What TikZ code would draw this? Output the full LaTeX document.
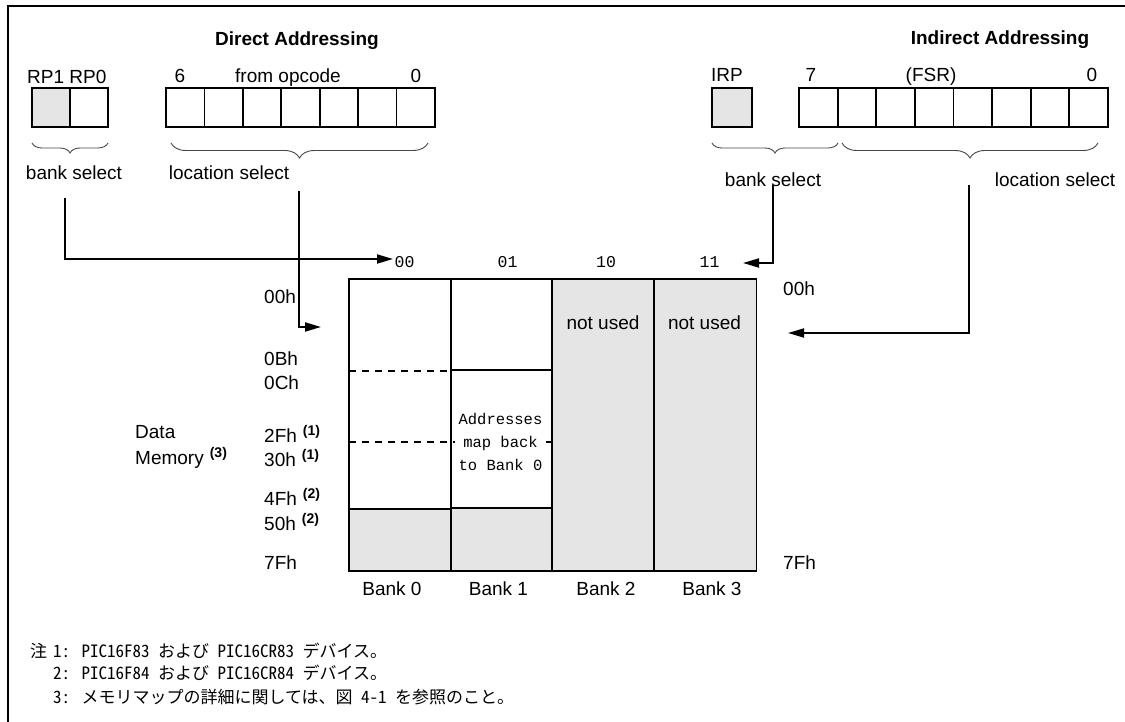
\documentclass[tikz,border=0pt]{standalone}
\usepackage{fontspec}
\setmainfont{Liberation Sans}
\newfontfamily\monof{Liberation Mono}
\newfontfamily\jpfont[RawFeature=+hwid]{Noto Sans CJK JP}
\usetikzlibrary{arrows.meta,decorations.pathreplacing}
\definecolor{memgray}{RGB}{229,229,229}
\definecolor{bracecol}{RGB}{70,70,70}
\begin{document}
\begin{tikzpicture}[x=1pt,y=-1pt,
  lbl/.style={font=\fontsize{19}{22}\selectfont, inner sep=0pt, text height=13.6pt, text depth=0pt},
  ttl/.style={lbl, font=\fontsize{19}{22}\selectfont\bfseries},
  mono/.style={font=\monof\fontsize{16.5}{18}\selectfont, inner sep=0pt, text height=11pt, text depth=0pt},
  note/.style={font=\jpfont\fontsize{17}{20}\selectfont, inner sep=0pt, anchor=west},
  cell/.style={draw, line width=1.8pt, minimum width=38.4pt, minimum height=39pt, inner sep=0pt, outer sep=0pt},
  fcell/.style={cell, minimum width=38.6pt},
  bankcol/.style={draw, line width=1.8pt, minimum height=292pt, inner sep=0pt, outer sep=0pt},
  arr/.style={line width=1.8pt, -{Triangle[length=16pt,width=9pt]}},
  bracesmall/.style={draw=bracecol, line width=0.9pt, decorate, decoration={brace, mirror, amplitude=10pt}},
  bracebig/.style={draw=bracecol, line width=0.9pt, decorate, decoration={brace, mirror, amplitude=15pt}},
  dline/.style={line width=1.5pt, dash pattern=on 7pt off 6pt}
]
\useasboundingbox (0,0) rectangle (1125,722);
% frame
\draw[line width=2pt] (8,722) -- (8,6.5) -- (1125,6.5);

% titles
\node[ttl] (tdir) at (297,39) {Direct Addressing};
\node[ttl] (tind) at (1000,38) {Indirect Addressing};

% direct registers
\node[lbl, anchor=west] (lrp) at (27,76.5) {RP1 RP0};
\node[cell, fill=memgray, minimum width=38pt] (rp1) at (51,107.5) {};
\node[cell, minimum width=38pt] (rp0) at (89,107.5) {};
\foreach \i in {0,...,6} \node[cell] (op\i) at ({185.2+38.43*\i},107.5) {};
\node[lbl] (l6) at (180,76) {6};
\node[lbl] (lfrom) at (288,76) {from opcode};
\node[lbl] (l0a) at (416,76) {0};

% indirect registers
\node[lbl, anchor=west] (lirp) at (711,75) {IRP};
\node[cell, fill=memgray, minimum width=40pt] (irp) at (732,107.5) {};
\foreach \i in {0,...,7} \node[fcell] (fs\i) at ({818.3+38.6*\i},107.5) {};
\node[lbl] (l7) at (811,75) {7};
\node[lbl] (lfsr) at (931,75) {(FSR)};
\node[lbl] (l0b) at (1092,75) {0};

% braces
\draw[bracesmall] (32,143) -- (108,143);
\draw[bracebig] (171,143) -- (428,143);
\draw[bracesmall] (712,143) -- (838,143);
\draw[bracebig] (842,143) -- (1098,143);

\node[lbl] (bsd) at (74,173) {bank select};
\node[lbl] (lsd) at (229,173) {location select};
\node[lbl] (bsi) at (773,180) {bank select};
\node[lbl] (lsi) at (1055,180) {location select};

% bank header labels
\node[mono] (h00) at (404.5,262) {00};
\node[mono] (h01) at (507.5,262) {01};
\node[mono] (h10) at (606,262) {10};
\node[mono] (h11) at (709.5,262) {11};

% memory banks
\fill[memgray] (349,509) rectangle (451,571);
\fill[memgray] (451,508) rectangle (552,571);
\node[bankcol, fill=memgray, minimum width=102pt] (bank2) at (603,425) {};
\node[bankcol, fill=memgray, minimum width=102pt] (bank3) at (705.5,425) {};
\node[bankcol, minimum width=102pt] (bank0) at (400,425) {};
\node[bankcol, minimum width=101pt] (bank1) at (501.5,425) {};
\draw[dline] (bank0.west |- 0,371) -- (bank0.east |- 0,371);
\draw[dline] (bank0.west |- 0,442) -- (bank1.east |- 0,442);
\draw[line width=1.8pt] (bank1.west |- 0,370) -- (bank1.east |- 0,370);
\draw[line width=1.8pt] (bank0.west |- 0,509) -- (bank0.east |- 0,509);
\draw[line width=1.8pt] (bank1.west |- 0,508) -- (bank1.east |- 0,508);
\node[lbl] (nu2) at (603,323) {not used};
\node[lbl] (nu3) at (704.5,323) {not used};
\node[font=\monof\fontsize{15.5}{23}\selectfont, fill=white, align=center, inner xsep=4pt, inner ysep=1pt] (amap) at (500.5,442) {Addresses\\map back\\to Bank 0};

\node[lbl] (bk0) at (392,589) {Bank 0};
\node[lbl] (bk1) at (498.5,589) {Bank 1};
\node[lbl] (bk2) at (606,589) {Bank 2};
\node[lbl] (bk3) at (712,589) {Bank 3};

% address labels
\node[lbl, anchor=west] (a00) at (264,297) {00h};
\node[lbl, anchor=west] (a0b) at (264,359) {0Bh};
\node[lbl, anchor=west] (a0c) at (264,383) {0Ch};
\node[lbl, anchor=west] (a2f) at (264,436) {2Fh\hspace{6pt}{\fontsize{14}{14}\selectfont\bfseries\raisebox{7pt}{(1)}}};
\node[lbl, anchor=west] (a30) at (264,460) {30h\hspace{6pt}{\fontsize{14}{14}\selectfont\bfseries\raisebox{7pt}{(1)}}};
\node[lbl, anchor=west] (a4f) at (264,499) {4Fh\hspace{6pt}{\fontsize{14}{14}\selectfont\bfseries\raisebox{7pt}{(2)}}};
\node[lbl, anchor=west] (a50) at (264,524) {50h\hspace{6pt}{\fontsize{14}{14}\selectfont\bfseries\raisebox{7pt}{(2)}}};
\node[lbl, anchor=west] (a7f) at (264,563) {7Fh};
\node[lbl, anchor=west] (ldata) at (135,432) {Data};
\node[lbl, anchor=west] (lmem) at (135,458) {Memory\hspace{6pt}{\fontsize{14}{14}\selectfont\bfseries\raisebox{7pt}{(3)}}};
\node[lbl, anchor=west] (r00) at (783,289) {00h};
\node[lbl, anchor=west] (r7f) at (783,563) {7Fh};

% arrows
\coordinate (dbsS) at (65,198);
\coordinate (dbsE) at (393,259);
\coordinate (dlsS) at (299,191);
\coordinate (dlsE) at (321,327);
\coordinate (ibsS) at (773,185);
\coordinate (ibsE) at (743,263);
\coordinate (ilsS) at (969,185);
\coordinate (ilsE) at (788,333);
\draw[arr] (dbsS) |- (dbsE);
\draw[arr] (dlsS) |- (dlsE);
\draw[arr] (ibsS) |- (ibsE);
\draw[arr] (ilsS) |- (ilsE);

% notes
\node[note] (n0) at (30,651) {注};
\node[note] (n1) at (53,651) {1: PIC16F83 および PIC16CR83 デバイス。};
\node[note] (n2) at (53,673) {2: PIC16F84 および PIC16CR84 デバイス。};
\node[note] (n3) at (53,697) {3: メモリマップの詳細に関しては、図 4-1 を参照のこと。};
\end{tikzpicture}
\end{document}
